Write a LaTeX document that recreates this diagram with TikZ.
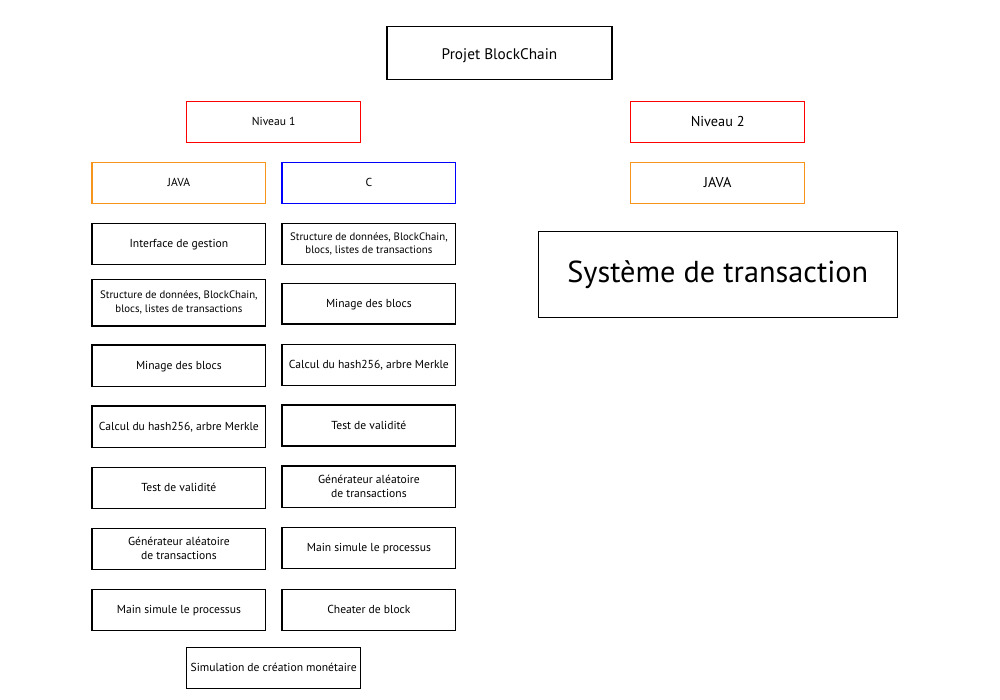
\documentclass[tikz,border=0pt]{standalone}
\usepackage{fontspec}
\setmainfont{PT Sans}
\definecolor{lvlred}{RGB}{255,0,0}
\definecolor{javaor}{RGB}{247,148,29}
\definecolor{cblue}{RGB}{0,0,255}
\begin{document}
\begin{tikzpicture}[x=1pt,y=-1pt,
  box/.style={draw=black,line width=1.2pt,rectangle,inner sep=0pt,align=center,
    minimum width=173.7pt,minimum height=41pt,font=\fontsize{11.6}{14}\selectfont},
  one/.style={text height=9.5pt,text depth=2pt},
  big/.style={font=\fontsize{14.3}{16}\selectfont,text height=11.5pt,text depth=3pt},
  lvl/.style={box,draw=lvlred},
  jv/.style={box,draw=javaor},
  cb/.style={box,draw=cblue}]
\useasboundingbox[fill=white] (0,0) rectangle (1000,700);
% top
\node[box,minimum width=225pt,minimum height=53pt,font=\fontsize{15.3}{18}\selectfont,text height=14pt,text depth=1pt] (proj) at (499.5,52.8) {Projet BlockChain};
\node[lvl,one] (n1) at (273.7,121.7) {Niveau 1};
\node[lvl,big] (n2) at (717.7,121.8) {Niveau 2};
\node[jv,one] (javaL) at (178.9,182.8) {JAVA};
\node[cb,one] (cC) at (368.9,182.8) {C};
\node[jv,big] (javaR) at (717.7,182.8) {JAVA};
\node[box,minimum width=359pt,minimum height=86pt,font=\fontsize{30.3}{34}\selectfont] (sys) at (717.8,274.7) {Système de transaction};
% left column (JAVA)
\node[box,one] (l1) at (178.9,243.8) {Interface de gestion};
\node[box,minimum height=46.7pt,font=\fontsize{10.8}{14.3}\selectfont] (l2) at (178.9,302.7) {Structure de données, BlockChain,\\blocs, listes de transactions};
\node[box,one,minimum height=41.7pt] (l3) at (178.9,365.8) {Minage des blocs};
\node[box,one,minimum height=41.3pt] (l4) at (178.9,426.7) {Calcul du hash256, arbre Merkle};
\node[box,one,minimum height=41.4pt] (l5) at (178.9,488) {Test de validité};
\node[box,font=\fontsize{11.6}{14}\selectfont] (l6) at (178.9,548.8) {Générateur aléatoire\\de transactions};
\node[box,one,minimum height=41.4pt] (l7) at (178.9,610) {Main simule le processus};
% right column (C)
\node[box,font=\fontsize{10.8}{12.3}\selectfont] (r1) at (368.9,243.8) {Structure de données, BlockChain,\\blocs, listes de transactions};
\node[box,one,minimum height=40.7pt] (r2) at (368.9,303.7) {Minage des blocs};
\node[box,one,minimum height=41.4pt] (r3) at (368.9,365) {Calcul du hash256, arbre Merkle};
\node[box,one] (r4) at (368.9,425.5) {Test de validité};
\node[box,minimum height=41.3pt,font=\fontsize{11.6}{14}\selectfont] (r5) at (368.9,486.7) {Générateur aléatoire\\de transactions};
\node[box,one] (r6) at (368.9,547.8) {Main simule le processus};
\node[box,one,minimum height=41.4pt] (r7) at (368.9,610) {Cheater de block};
% bottom
\node[box,one,minimum width=174pt] (sim) at (273.7,667.8) {Simulation de création monétaire};
\end{tikzpicture}
\end{document}
